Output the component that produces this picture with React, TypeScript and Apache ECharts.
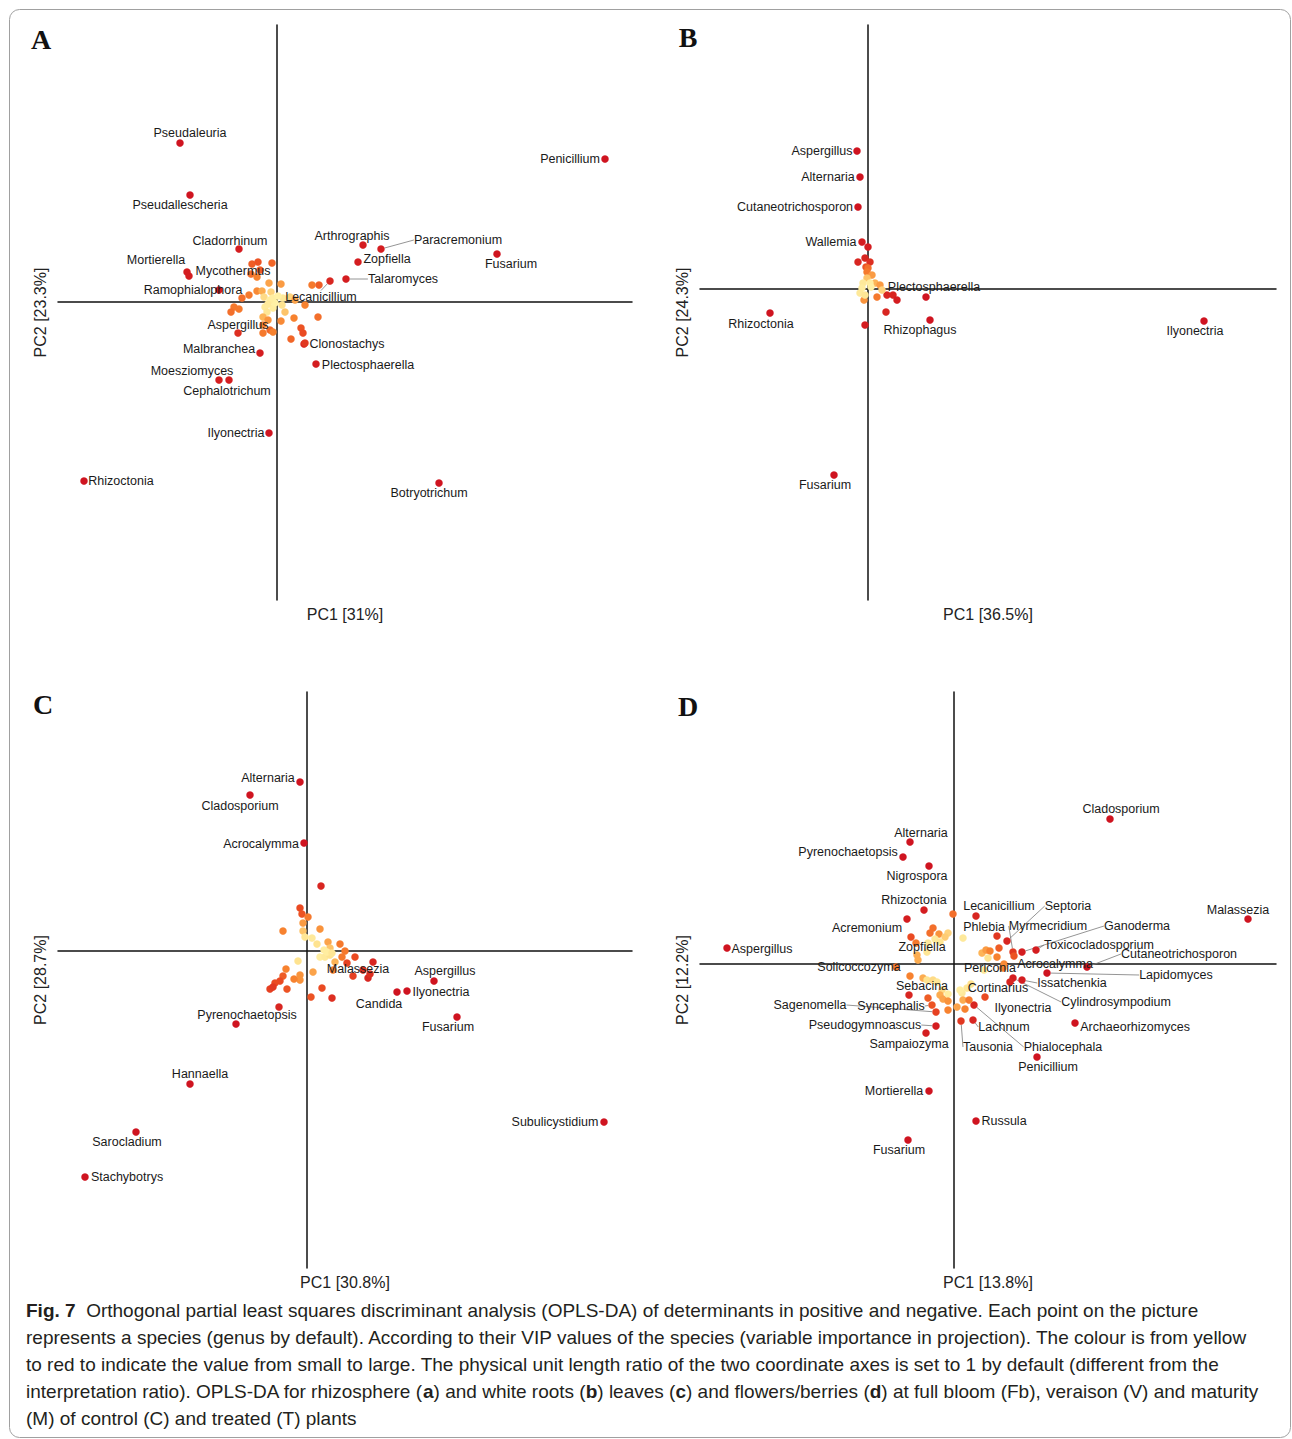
import { useEffect, useRef } from 'react';
import * as echarts from 'echarts';

// ---------- Panel A (rhizosphere) ----------
const namesA = ['Pseudaleuria','Penicillium','Pseudallescheria','Cladorrhinum','Mortierella','Mycothermus','Ramophialophora','Arthrographis','Paracremonium','Zopfiella','Talaromyces','Fusarium','Lecanicillium','Aspergillus','Malbranchea','Moesziomyces','Cephalotrichum','Clonostachys','Plectosphaerella','Ilyonectria','Rhizoctonia','Botryotrichum'];
const labeledA = [[-9.7,15.9,3.0],[32.8,14.3,3.0],[-8.7,10.7,3.0],[-3.8,5.3,2.9],[-9.0,3.0,2.9],[-1.7,3.2,2.2],[-5.8,1.2,2.9],[8.6,5.7,2.9],[10.4,5.3,2.9],[8.1,4.0,2.9],[6.9,2.3,2.9],[22.0,4.8,3.0],[5.3,2.1,2.8],[-3.9,-3.1,2.7],[-1.7,-5.1,2.9],[-5.8,-7.8,2.9],[-4.8,-7.8,2.9],[2.7,-4.2,2.8],[3.9,-6.2,2.9],[-0.8,-13.1,3.0],[-19.3,-17.9,3.0],[16.2,-18.1,3.0]];
const otherA = [[-8.8,2.6,2.9],[-2.5,3.8,2.2],[-1.9,4.0,2.3],[-0.5,3.9,2.1],[-2.6,2.8,2.0],[-2.0,2.5,1.8],[-3.5,0.4,2.0],[-2.8,0.7,1.9],[-2.0,1.1,1.7],[-1.5,1.1,1.3],[-0.8,1.9,1.4],[-0.6,1.0,0.8],[-1.3,0.5,0.7],[0.4,1.8,1.5],[-0.4,0.4,0.3],[0.6,0.4,0.4],[1.3,0.5,0.8],[1.8,0.2,1.4],[3.5,1.7,1.9],[4.2,1.7,2.2],[2.8,-0.3,1.8],[-4.3,-0.5,1.9],[-4.6,-1.0,2.0],[-3.8,-0.7,1.9],[-1.2,-0.5,0.4],[-0.4,-0.6,0.3],[-1.0,-1.0,0.5],[0.5,-0.3,0.6],[0.8,-1.0,1.0],[-1.4,-1.5,1.2],[-0.9,-1.8,1.6],[0.4,-1.9,1.7],[1.7,-1.6,1.8],[4.1,-1.5,2.0],[-1.4,-2.3,1.8],[-1.4,-3.1,1.9],[-0.7,-2.8,2.1],[-0.4,-3.0,1.8],[1.4,-3.7,2.1],[2.4,-2.6,2.3],[2.6,-3.1,2.4],[2.8,-4.1,2.6],[-0.2,-0.1,0.2],[-0.7,0.2,0.3],[0.1,0.6,0.2],[-0.9,-0.2,0.4]];
const leadersA = ['Paracremonium','Talaromyces','Lecanicillium'];

// ---------- Panel B (white roots) ----------
const namesB = ['Aspergillus','Alternaria','Cutaneotrichosporon','Wallemia','Plectosphaerella','Rhizoctonia','Rhizophagus','Ilyonectria','Fusarium'];
const labeledB = [[-1.1,13.8,3.0],[-0.8,11.2,3.0],[-1.0,8.2,3.0],[-0.6,4.7,2.9],[1.9,-0.6,2.8],[-9.8,-2.4,3.0],[6.2,-3.1,3.0],[33.6,-3.2,3.0],[-3.4,-18.6,3.0]];
const otherB = [[0.0,4.2,2.9],[-1.0,2.7,2.8],[-0.3,3.1,2.8],[0.2,2.7,2.7],[-0.2,2.2,2.3],[0.0,2.1,2.0],[-0.1,1.7,1.9],[0.4,1.4,1.5],[-0.1,1.1,1.0],[0.7,0.6,1.2],[1.2,0.4,1.5],[-0.4,-1.1,1.6],[0.9,-0.8,1.9],[2.5,-0.6,2.8],[2.9,-1.1,2.9],[5.8,-0.8,3.0],[1.8,-2.3,2.8],[-0.3,-3.6,2.9],[1.4,-0.1,0.8],[-0.5,0.6,0.4],[0.2,0.6,0.3],[-0.6,0.1,0.3],[-0.8,-0.4,0.4],[-0.3,-0.6,0.5],[0.3,0.2,0.2]];
const leadersB: string[] = [];

// ---------- Panel C (leaves) ----------
const namesC = ['Alternaria','Cladosporium','Acrocalymma','Malassezia','Aspergillus','Candida','Ilyonectria','Fusarium','Pyrenochaetopsis','Hannaella','Sarocladium','Stachybotrys','Subulicystidium'];
const labeledC = [[-0.7,16.9,3.0],[-5.7,15.6,3.0],[-0.3,10.8,3.0],[4.0,-1.2,2.5],[12.7,-3.0,3.0],[9.0,-4.1,3.0],[10.0,-4.0,3.0],[15.0,-6.6,3.0],[-7.1,-7.3,3.0],[-11.7,-13.3,3.0],[-17.1,-18.1,3.0],[-22.2,-22.6,3.0],[29.7,-17.1,3.0]];
const otherC = [[1.4,6.5,2.8],[-0.7,4.3,2.4],[-0.5,3.7,2.3],[0.1,3.4,1.9],[-0.4,2.8,1.5],[-2.4,2.0,1.8],[1.3,2.2,1.6],[-0.4,2.0,1.0],[-0.2,1.4,0.5],[0.5,1.3,0.4],[1.0,0.7,0.6],[2.1,0.9,1.4],[3.3,0.7,1.9],[2.3,0.3,1.0],[3.8,0.0,1.9],[1.3,-0.6,0.3],[1.8,-0.6,0.4],[2.3,-0.4,0.6],[2.8,-1.1,1.2],[3.5,-0.6,1.9],[4.8,-0.6,2.4],[6.6,-1.1,2.8],[2.6,-1.9,1.8],[5.6,-1.9,2.7],[4.6,-2.5,2.5],[6.1,-2.7,2.8],[6.3,-2.3,2.7],[-0.9,-1.0,0.6],[-2.1,-1.8,1.8],[-2.4,-2.5,2.2],[-0.7,-2.4,1.6],[-0.7,-2.9,1.6],[-1.3,-2.8,1.8],[0.6,-2.1,1.4],[-2.7,-3.0,2.4],[-3.2,-3.2,2.4],[-3.7,-3.8,2.5],[-3.4,-3.6,2.6],[-2.0,-3.8,2.3],[1.5,-3.7,2.4],[0.4,-4.6,2.3],[2.5,-4.7,2.7],[-2.8,-5.6,2.8],[2.0,-0.1,0.3],[1.7,0.1,0.3],[2.5,-0.2,0.5]];
const leadersC: string[] = [];

// ---------- Panel D (flowers/berries) ----------
const namesD = ['Cladosporium','Malassezia','Alternaria','Pyrenochaetopsis','Nigrospora','Rhizoctonia','Acremonium','Aspergillus','Zopfiella','Lecanicillium','Septoria','Phlebia','Myrmecridium','Ganoderma','Toxicocladosporium','Cutaneotrichosporon','Acrocalymma','Periconia','Lapidomyces','Issatchenkia','Cylindrosympodium','Cortinarius','Sebacina','Ilyonectria','Solicoccozyma','Sagenomella','Syncephalis','Pseudogymnoascus','Sampaiozyma','Lachnum','Tausonia','Phialocephala','Penicillium','Archaeorhizomyces','Mortierella','Russula','Fusarium'];
const labeledD = [[15.6,14.5,3.0],[29.4,4.5,3.0],[-4.4,12.2,3.0],[-5.1,10.7,3.0],[-2.5,9.8,3.0],[-3.0,5.4,2.9],[-4.7,4.5,2.9],[-22.7,1.6,3.0],[-3.8,2.1,1.9],[2.2,4.8,2.8],[5.3,2.3,2.8],[4.3,2.8,2.6],[5.9,1.2,2.6],[6.8,1.2,2.9],[8.2,1.4,2.9],[13.3,-0.3,3.0],[4.9,-0.4,1.8],[3.0,-0.6,0.4],[9.3,-0.9,3.0],[6.8,-1.6,2.9],[5.9,-1.4,2.9],[1.7,-2.0,0.6],[-4.5,-3.1,2.8],[3.1,-3.3,2.4],[-5.8,-0.3,1.9],[-1.8,-4.8,2.5],[-2.2,-4.1,2.3],[-1.8,-6.2,2.9],[-2.8,-6.9,2.9],[1.9,-5.6,2.8],[0.7,-5.7,2.6],[2.0,-4.1,2.8],[8.3,-9.3,3.0],[12.1,-5.9,3.0],[-2.5,-12.7,3.0],[2.2,-15.7,3.0],[-4.6,-17.6,3.0]];
const otherD = [[-0.1,5.0,2.0],[-2.1,3.6,2.0],[-2.4,3.1,2.0],[-1.5,3.0,1.6],[-0.6,3.1,0.8],[-0.9,2.7,0.9],[-4.3,2.7,2.4],[-1.9,2.5,0.4],[-1.4,2.2,0.5],[-2.6,2.1,0.4],[-2.7,1.2,0.5],[-3.7,0.9,1.3],[-3.6,0.4,1.3],[0.9,2.6,0.4],[2.8,1.1,1.2],[3.2,1.4,1.5],[3.6,1.3,1.8],[3.4,0.6,0.6],[4.5,1.6,2.2],[4.3,0.7,1.8],[6.0,0.8,2.3],[5.0,0.0,1.7],[5.6,-1.8,2.8],[-4.4,-1.2,1.8],[-3.1,-1.4,1.3],[-2.7,-1.6,0.6],[-2.1,-1.6,0.7],[-1.7,-1.8,0.5],[-2.6,-3.4,2.2],[-1.2,-2.6,0.7],[-1.4,-3.1,1.3],[-1.1,-3.5,1.4],[-0.6,-3.0,0.3],[-0.6,-4.6,1.8],[0.8,-2.9,0.4],[1.3,-2.4,0.5],[0.9,-3.6,1.3],[1.5,-3.6,1.9],[0.3,-4.3,1.4],[1.1,-4.5,1.8],[0.6,-2.6,0.3],[-0.6,-3.7,1.6]];
const leadersD = ['Septoria','Myrmecridium','Ganoderma','Toxicocladosporium','Cutaneotrichosporon','Lapidomyces','Issatchenkia','Cylindrosympodium','Sagenomella','Syncephalis','Pseudogymnoascus','Lachnum','Tausonia','Phialocephala'];

// ---------- Axis titles ----------
const pc1Titles = ['PC1 [31%]', 'PC1 [36.5%]', 'PC1 [30.8%]', 'PC1 [13.8%]'];
const pc2Titles = ['PC2 [23.3%]', 'PC2 [24.3%]', 'PC2 [28.7%]', 'PC2 [12.2%]'];
const panelLetters = ['A', 'B', 'C', 'D'];

const captionLines = [
  '{b|Fig. 7}  Orthogonal partial least squares discriminant analysis (OPLS-DA) of determinants in positive and negative. Each point on the picture',
  'represents a species (genus by default). According to their VIP values of the species (variable importance in projection). The colour is from yellow',
  'to red to indicate the value from small to large. The physical unit length ratio of the two coordinate axes is set to 1 by default (different from the',
  'interpretation ratio). OPLS-DA for rhizosphere ({b|a}) and white roots ({b|b}) leaves ({b|c}) and flowers/berries ({b|d}) at full bloom (Fb), veraison (V) and maturity',
  '(M) of control (C) and treated (T) plants',
];

// ---------- Layout (positions/styles) ----------
const grids = [
  { left: 58, top: 25, width: 574, height: 575 },
  { left: 700, top: 25, width: 576, height: 575 },
  { left: 58, top: 692, width: 574, height: 576 },
  { left: 700, top: 692, width: 576, height: 576 },
];
const letterPos = [[41, 39], [688, 37], [43, 704], [688, 706]];
const xRanges = [[-21.9, 35.5], [-16.8, 40.8], [-24.9, 32.5], [-25.4, 32.2]];
const yRanges = [[-29.8, 27.7], [-31.1, 26.4], [-31.7, 25.9], [-30.4, 27.2]];
const offsetA = [[10,-10],[-35,0],[-10,10],[-9,-8],[-31,-12],[-27,1],[-26,0],[-11,-9],[77,-9],[29,-3],[57,0],[14,10],[-9,16],[0,-8],[-41,-4],[-27,-9],[-2,11],[43,0],[52,1],[-33,0],[37,0],[-10,10]];
const offsetB = [[-35,0],[-32,0],[-63,0],[-31,0],[47,-8],[-9,11],[-10,10],[-9,10],[-9,10]];
const offsetC = [[-32,-4],[-10,11],[-43,1],[11,6],[11,-10],[-18,12],[34,1],[-9,10],[11,-9],[10,-10],[-9,10],[42,0],[-49,0]];
const offsetD = [[11,-10],[-10,-9],[11,-9],[-55,-5],[-12,10],[-10,-10],[-40,9],[35,1],[6,4],[23,-10],[61,-35],[-13,-9],[35,-26],[115,-26],[63,-5],[92,-13],[52,-4],[6,-2],[129,2],[50,3],[103,24],[27,4],[13,-9],[38,11],[-37,0],[-126,-7],[-41,1],[-71,-1],[-17,11],[31,7],[27,26],[89,42],[11,10],[60,4],[-35,0],[28,0],[-9,10]];

const SANS = '"Liberation Sans", Arial, Helvetica, sans-serif';

function buildSeries(idx: number, names: string[], labeled: number[][], others: number[][], offsets: number[][], leaders: string[]) {
  const data: any[] = [];
  labeled.forEach((p, i) => {
    data.push({
      name: names[i],
      value: p,
      label: { show: true },
      labelLine: { show: leaders.includes(names[i]) },
    });
  });
  others.forEach((p) => data.push({ name: '', value: p }));
  return {
    type: 'scatter',
    xAxisIndex: idx,
    yAxisIndex: idx,
    symbol: 'circle',
    symbolSize: 7.5,
    data,
    itemStyle: { opacity: 1 },
    label: {
      show: false,
      position: 'inside',
      formatter: '{b}',
      fontSize: 12.5,
      fontFamily: SANS,
      color: '#1a1a1a',
      textBorderWidth: 0,
    },
    labelLine: { show: false, lineStyle: { color: '#7a7a7a', width: 0.8 } },
    labelLayout: (params: any) => {
      const o = offsets[params.dataIndex];
      return o ? { dx: o[0], dy: o[1] } : {};
    },
    emphasis: { disabled: true },
  };
}

export default function App() {
  const ref = useRef<HTMLDivElement>(null);
  useEffect(() => {
    if (!ref.current) return;
    const chart = echarts.init(ref.current, null, { renderer: 'svg' });

    const axisCommon = {
      type: 'value',
      axisLine: { show: true, onZero: true, lineStyle: { color: '#111', width: 1.5 } },
      axisTick: { show: false },
      axisLabel: { show: false },
      splitLine: { show: false },
    };

    const graphics: any[] = [
      {
        type: 'rect',
        shape: { x: 9.5, y: 9.5, width: 1281, height: 1428, r: 10 },
        style: { fill: 'none', stroke: '#a0a0a0', lineWidth: 1 },
        silent: true,
      },
    ];
    grids.forEach((g, i) => {
      const cx = g.left + g.width / 2;
      const cy = g.top + g.height / 2;
      graphics.push({
        type: 'text',
        x: cx,
        y: g.top + g.height + 14,
        style: { text: pc1Titles[i], font: `16px ${SANS}`, fill: '#222', align: 'center', verticalAlign: 'middle' },
      });
      graphics.push({
        type: 'text',
        x: g.left - 18,
        y: cy,
        rotation: Math.PI / 2,
        style: { text: pc2Titles[i], font: `16px ${SANS}`, fill: '#222', align: 'center', verticalAlign: 'middle' },
      });
      graphics.push({
        type: 'text',
        x: letterPos[i][0],
        y: letterPos[i][1],
        style: { text: panelLetters[i], font: `bold 28px "Liberation Serif", "Times New Roman", serif`, fill: '#111', align: 'center', verticalAlign: 'middle' },
      });
    });
    const CAP = '"Liberation Sans Narrow", "Arial Narrow", "Liberation Sans", sans-serif';
    captionLines.forEach((line, i) => {
      graphics.push({
        type: 'text',
        x: 26,
        y: 1310 + i * 27,
        style: {
          text: line,
          font: `19px ${CAP}`,
          fill: '#231f20',
          align: 'left',
          verticalAlign: 'middle',
          rich: {
            b: { fontWeight: 'bold', fontSize: 19, fontFamily: CAP, fill: '#231f20' },
          },
        },
      });
    });

    chart.setOption({
      animation: false,
      backgroundColor: '#ffffff',
      grid: grids.map((g) => ({ ...g, containLabel: false })),
      xAxis: grids.map((_, i) => ({ ...axisCommon, gridIndex: i, min: xRanges[i][0], max: xRanges[i][1] })),
      yAxis: grids.map((_, i) => ({ ...axisCommon, gridIndex: i, min: yRanges[i][0], max: yRanges[i][1] })),
      visualMap: {
        type: 'continuous',
        show: false,
        min: 0,
        max: 3,
        dimension: 2,
        seriesIndex: [0, 1, 2, 3],
        inRange: { color: ['#fff6b0', '#fee390', '#fdb457', '#f7822f', '#ea4a22', '#cf1420'] },
      },
      series: [
        buildSeries(0, namesA, labeledA, otherA, offsetA, leadersA),
        buildSeries(1, namesB, labeledB, otherB, offsetB, leadersB),
        buildSeries(2, namesC, labeledC, otherC, offsetC, leadersC),
        buildSeries(3, namesD, labeledD, otherD, offsetD, leadersD),
      ],
      graphic: graphics,
    });
    return () => chart.dispose();
  }, []);
  return <div ref={ref} style={{ position: 'absolute', left: 0, top: 0, width: 1292, height: 1439, background: '#fff' }} />;
}
